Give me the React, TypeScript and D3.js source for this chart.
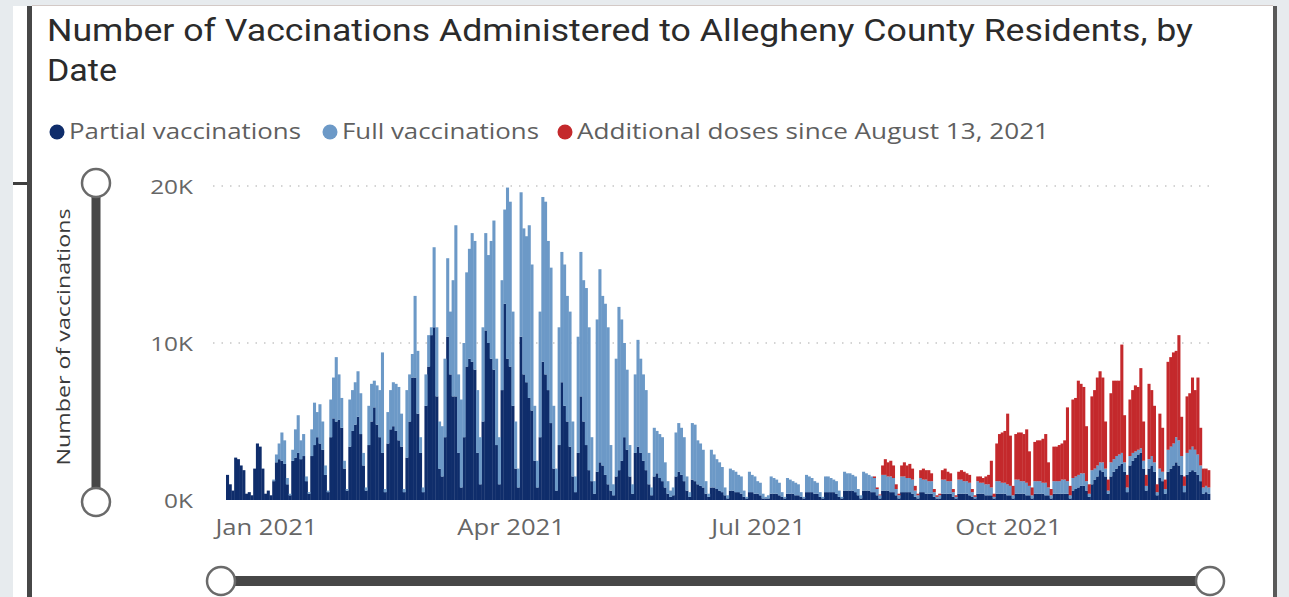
import React from "react";
import * as d3 from "d3";

// ---------- DATA (daily values, thousands of vaccinations) ----------
const startDate = "2020-12-18";
const additionalStartDate = "2021-08-13";

// Partial vaccinations (first doses), one value per day from Dec 18, 2020
const partialK = [
  1.6, 1.0, 0.6,
  2.7, 2.6, 2.2, 1.9, 0.4, 0.5, 0.3,
  2.0, 3.6, 3.4, 2.0, 0.4, 0.6, 0.3,
  1.2, 2.4, 2.6, 2.5, 2.3, 1.0, 0.3,
  2.5, 2.7, 3.0, 2.6, 2.8, 1.2, 0.4,
  2.8, 3.5, 4.0, 3.6, 3.2, 1.6, 0.5,
  4.0, 5.2, 5.0, 5.1, 4.6, 2.0, 0.6,
  3.4, 4.4, 4.8, 5.3, 4.2, 2.2, 0.6,
  3.5, 5.0, 5.9, 4.8, 4.0, 3.0, 0.5,
  3.6, 4.5, 4.7, 4.4, 3.8, 3.4, 0.5,
  2.7, 5.0, 7.8, 7.8, 5.5, 3.0, 0.5,
  6.0, 8.5, 10.5, 11.0, 6.6, 2.0, 1.5,
  4.0, 10.4, 8.0, 6.6, 6.6, 3.0, 0.8,
  4.0, 8.5, 9.0, 8.8, 8.3, 3.0, 1.0,
  5.0, 10.8, 10.0, 9.0, 8.3, 3.5, 1.0,
  7.0, 12.5, 9.0, 8.5, 6.0, 2.0, 0.8,
  10.4, 8.0, 7.5, 6.5, 5.7, 2.5, 0.8,
  4.0, 8.8, 8.0, 7.0, 4.9, 2.0, 0.6,
  3.5, 7.5, 6.0, 5.0, 3.4, 1.5, 0.5,
  3.0, 6.6, 5.0, 3.5, 1.9, 1.2, 0.4,
  1.8, 2.4, 2.2, 1.6, 1.0, 0.6, 0.3,
  1.5, 1.9, 2.5, 4.0, 3.2, 1.5, 0.4,
  3.0, 3.4, 3.0, 2.5, 1.9, 1.0, 0.3,
  1.5, 1.7, 1.4, 1.2, 0.8, 0.4, 0.2,
  0.3, 1.5, 1.8, 1.6, 1.2, 0.6, 0.2,
  1.3, 1.2, 1.0, 0.9, 0.8, 0.4, 0.2,
  0.8, 0.8, 0.7, 0.6, 0.5, 0.3, 0.1,
  0.6, 0.6, 0.5, 0.5, 0.4, 0.2, 0.1,
  0.5, 0.5, 0.4, 0.4, 0.3, 0.1, 0.1,
  0.1, 0.4, 0.4, 0.4, 0.3, 0.2, 0.1,
  0.4, 0.4, 0.4, 0.3, 0.3, 0.2, 0.1,
  0.5, 0.5, 0.5, 0.4, 0.4, 0.2, 0.1,
  0.5, 0.5, 0.5, 0.5, 0.4, 0.2, 0.1,
  0.6, 0.6, 0.6, 0.6, 0.5, 0.3, 0.1,
  0.6, 0.6, 0.6, 0.5, 0.5, 0.3, 0.1,
  0.6, 0.6, 0.6, 0.5, 0.5, 0.3, 0.1,
  0.5, 0.5, 0.5, 0.5, 0.4, 0.2, 0.1,
  0.5, 0.5, 0.4, 0.4, 0.4, 0.2, 0.1,
  0.1, 0.4, 0.4, 0.4, 0.4, 0.2, 0.1,
  0.4, 0.4, 0.4, 0.4, 0.3, 0.2, 0.1,
  0.4, 0.4, 0.4, 0.3, 0.3, 0.3, 0.1,
  0.4, 0.4, 0.4, 0.4, 0.3, 0.3, 0.1,
  0.4, 0.4, 0.4, 0.4, 0.3, 0.3, 0.1,
  0.4, 0.4, 0.4, 0.4, 0.3, 0.3, 0.1,
  0.4, 0.4, 0.4, 0.4, 0.4, 0.4, 0.1,
  0.6, 0.7, 0.8, 0.9, 0.9, 0.6, 0.2,
  1.0, 1.3, 1.5, 1.9, 1.8, 1.5, 0.4,
  1.5, 1.8, 2.0, 2.2, 2.3, 1.8, 0.5,
  2.2, 2.5, 2.7, 2.9, 3.0, 2.0, 0.6,
  2.0, 2.2, 1.8, 0.3, 1.4, 1.2, 0.4,
  1.8, 2.0, 2.2, 2.4, 2.2, 1.6, 0.5,
  1.6, 1.8, 1.9, 1.8, 1.6, 1.2, 0.4,
  0.5, 0.4,
];

// Full vaccinations, one value per day from Dec 18, 2020
const fullK = [
  0, 0, 0,
  0, 0, 0, 0, 0, 0, 0,
  0, 0, 0, 0, 0, 0, 0,
  0.1, 0.5, 1.0, 1.8, 1.5, 0.4, 0.1,
  0.7, 1.8, 2.4, 1.2, 1.4, 0.3, 0.1,
  1.7, 2.7, 1.6, 2.5, 1.8, 0.6, 0.1,
  2.4, 2.6, 4.1, 2.9, 1.9, 0.5, 0.1,
  3.0, 2.6, 2.7, 2.9, 2.6, 0.8, 0.2,
  2.5, 2.4, 1.7, 2.5, 3.0, 6.4, 0.2,
  2.0, 2.5, 2.8, 3.0, 3.4, 2.1, 0.2,
  4.3, 3.0, 1.5, 5.2, 4.0, 1.0, 0.3,
  2.0, 2.0, 0.5, 5.1, 4.4, 3.0, 3.2,
  5.0, 5.0, 4.0, 7.4, 10.9, 5.0, 5.6,
  6.0, 6.0, 7.0, 8.2, 8.2, 4.0, 3.0,
  6.0, 6.2, 5.6, 7.5, 9.5, 5.5, 3.0,
  7.0, 6.0, 10.9, 10.5, 6.0, 3.0, 1.2,
  9.2, 9.3, 9.3, 11.0, 9.3, 3.5, 1.7,
  8.0, 10.5, 11.0, 9.5, 9.9, 4.0, 1.4,
  7.5, 8.3, 9.0, 8.0, 8.6, 3.5, 1.0,
  7.4, 9.2, 9.0, 10.0, 9.1, 2.8, 0.8,
  9.7, 12.3, 10.8, 10.9, 10.0, 2.9, 0.7,
  7.5, 10.4, 9.0, 6.0, 5.1, 2.0, 0.6,
  5.0, 6.8, 6.0, 5.5, 5.1, 2.0, 0.5,
  3.1, 2.7, 2.8, 2.8, 1.6, 0.8, 0.4,
  0.5, 2.8, 3.1, 3.0, 2.8, 0.9, 0.3,
  3.6, 3.6, 2.8, 2.7, 2.4, 0.8, 0.2,
  2.4, 2.1, 1.9, 1.8, 1.6, 0.5, 0.2,
  1.4, 1.3, 1.3, 1.1, 1.1, 0.4, 0.1,
  1.3, 1.1, 1.1, 0.8, 0.8, 0.3, 0.1,
  0.2, 1.1, 1.0, 0.9, 0.8, 0.3, 0.1,
  1.0, 0.9, 0.8, 0.8, 0.7, 0.3, 0.1,
  1.1, 1.0, 0.9, 0.8, 0.7, 0.3, 0.1,
  1.0, 1.0, 0.9, 0.8, 0.8, 0.4, 0.1,
  1.2, 1.1, 1.1, 1.0, 1.0, 0.4, 0.2,
  1.2, 1.1, 1.0, 1.0, 0.9, 0.4, 0.2,
  1.0, 1.0, 0.9, 1.0, 0.9, 0.4, 0.2,
  1.0, 1.0, 0.9, 0.9, 0.9, 0.4, 0.2,
  0.9, 0.8, 0.9, 0.8, 0.8, 0.3, 0.1,
  0.2, 0.9, 0.9, 0.8, 0.8, 0.3, 0.1,
  0.9, 0.9, 0.8, 0.8, 0.8, 0.3, 0.1,
  0.8, 0.7, 0.7, 0.7, 0.7, 0.5, 0.1,
  0.8, 0.8, 0.7, 0.7, 0.7, 0.6, 0.2,
  0.9, 0.9, 0.8, 0.8, 0.8, 0.6, 0.2,
  0.8, 0.8, 0.8, 0.7, 0.8, 0.5, 0.2,
  0.8, 0.8, 0.8, 0.9, 0.9, 0.8, 0.2,
  0.8, 0.8, 0.8, 0.8, 0.8, 0.6, 0.2,
  0.9, 0.7, 0.7, 0.5, 0.6, 0.5, 0.2,
  0.9, 0.8, 0.8, 0.7, 0.7, 0.6, 0.3,
  0.6, 0.5, 0.4, 0.3, 0.3, 0.5, 0.3,
  0.6, 0.6, 0.6, 0.2, 0.6, 0.6, 0.3,
  1.4, 1.4, 1.4, 1.6, 1.6, 1.2, 0.4,
  1.4, 1.4, 1.5, 1.4, 1.3, 1.0, 0.4,
  0.4, 0.4,
];

// Additional doses, one value per day from Aug 13, 2021
const additionalK = [
  0.1, 0.1, 0.05,
  0.6, 1.0, 0.9, 1.0, 0.8, 0.3, 0.1,
  0.7, 0.9, 0.8, 0.9, 0.7, 0.3, 0.1,
  0.5, 0.7, 0.6, 0.7, 0.5, 0.2, 0.1,
  0.1, 0.6, 0.7, 0.6, 0.5, 0.2, 0.1,
  0.5, 0.6, 0.6, 0.5, 0.5, 0.2, 0.1,
  0.3, 0.4, 0.3, 0.5, 0.6, 1.7, 0.2,
  2.4, 3.0, 3.2, 3.3, 4.5, 3.2, 0.6,
  2.9, 3.0, 3.1, 3.0, 3.4, 2.2, 0.5,
  2.5, 2.6, 2.6, 2.8, 3.1, 1.6, 0.4,
  2.2, 2.2, 2.3, 2.3, 2.5, 4.7, 0.6,
  5.0, 5.0, 6.0, 5.7, 5.5, 3.5, 0.6,
  4.7, 5.0, 5.6, 5.8, 5.4, 3.0, 0.7,
  4.4, 5.0, 4.8, 4.7, 6.9, 3.0, 0.8,
  3.6, 4.0, 4.2, 4.0, 5.1, 2.5, 0.7,
  4.8, 4.2, 3.6, 0.5, 3.5, 2.8, 0.6,
  5.6, 5.7, 5.8, 5.5, 6.7, 2.5, 0.6,
  3.6, 3.6, 4.4, 3.8, 4.9, 2.4, 1.2,
  1.1, 1.1,
];

const seriesKeys = ["partial", "full", "additional"];
const seriesNames = ["Partial vaccinations", "Full vaccinations", "Additional doses since August 13, 2021"];
const seriesColors = ["#0f2d6b", "#6c99c7", "#c4292c"];

const xTickDates = ["2021-01-01", "2021-04-01", "2021-07-01", "2021-10-01"];
const xTickLabels = ["Jan 2021", "Apr 2021", "Jul 2021", "Oct 2021"];
const yTickValues = [0, 10, 20];
const yTickLabels = ["0K", "10K", "20K"];

const titleLines = ["Number of Vaccinations Administered to Allegheny County Residents, by", "Date"];
const yAxisTitle = "Number of vaccinations";

// ---------- CHART ----------
const W = 1289;
const H = 597;
const UI_FONT = "'Open Sans', 'Noto Sans', sans-serif";
const TITLE_FONT = "Roboto, 'DejaVu Sans', sans-serif";

// horizontal stretch of the reference's text relative to the chosen font
const TEXT_STRETCH = 1.22;

export default function App() {
  const parse = d3.utcParse("%Y-%m-%d");
  const start = parse(startDate) as Date;
  const addStart = parse(additionalStartDate) as Date;
  const addOffset = d3.utcDay.count(start, addStart);

  const rows = partialK.map((p, i) => ({
    date: d3.utcDay.offset(start, i),
    partial: p,
    full: fullK[i] ?? 0,
    additional: i >= addOffset ? additionalK[i - addOffset] ?? 0 : 0,
  }));

  const stacked = d3.stack<any>().keys(seriesKeys)(rows);

  const x = d3
    .scaleUtc()
    .domain([start, d3.utcDay.offset(start, rows.length)])
    .range([226, 1210]);
  const y = d3.scaleLinear().domain([0, 20]).range([500, 186]);

  const gridX0 = 213;
  const gridX1 = 1215;

  const legendX = [57, 330, 565];
  const legendTextLen = [232, 197, 472];

  const stretchText = (sx: number, sy: number, anchor: string, size: number, fill: string, label: string, key?: string) => (
    <text
      key={key}
      transform={`translate(${sx},${sy}) scale(${TEXT_STRETCH},1)`}
      textAnchor={anchor}
      fontFamily={UI_FONT}
      fontSize={size}
      fill={fill}
    >
      {label}
    </text>
  );

  return (
    <div style={{ position: "absolute", left: 0, top: 0 }}>
      <svg width={W} height={H} style={{ display: "block" }}>
        <rect x={0} y={0} width={W} height={H} fill="#e7ebee" />
        <rect x={13} y={6} width={1262} height={H - 6} fill="#ffffff" />
        <line x1={32} x2={1273} y1={5.5} y2={5.5} stroke="#d3c9c6" strokeWidth={1} />
        <rect x={27} y={6} width={5} height={H - 6} fill="#474747" />
        <rect x={1273} y={6} width={4} height={H - 6} fill="#595959" />
        <rect x={13} y={182} width={14} height={3} fill="#3e3e3e" />

        {/* Title */}
        <text
          x={47}
          y={41}
          fontFamily={TITLE_FONT}
          fontSize={31}
          fill="#2b2b2b"
          textLength={1146}
          lengthAdjust="spacingAndGlyphs"
        >
          {titleLines[0]}
        </text>
        <text
          x={47}
          y={81}
          fontFamily={TITLE_FONT}
          fontSize={31}
          fill="#2b2b2b"
          textLength={70}
          lengthAdjust="spacingAndGlyphs"
        >
          {titleLines[1]}
        </text>

        {/* Legend */}
        {seriesNames.map((name, i) => (
          <g key={name}>
            <circle cx={legendX[i]} cy={132} r={7.5} fill={seriesColors[i]} />
            <text
              x={legendX[i] + 12}
              y={139}
              fontFamily={UI_FONT}
              fontSize={21}
              fill="#5f5f5f"
              textLength={legendTextLen[i]}
              lengthAdjust="spacingAndGlyphs"
            >
              {name}
            </text>
          </g>
        ))}

        {/* Gridlines */}
        {yTickValues
          .filter((v) => v > 0)
          .map((v) => (
            <line
              key={v}
              x1={gridX0}
              x2={gridX1}
              y1={y(v)}
              y2={y(v)}
              stroke="#c6c6c6"
              strokeWidth={1.5}
              strokeDasharray="1.5,7"
            />
          ))}

        {/* Bars */}
        {stacked.map((layer, li) => (
          <g key={seriesKeys[li]} fill={seriesColors[li]}>
            {layer.map((d: any, i: number) => {
              const h = y(d[0]) - y(d[1]);
              if (h <= 0) return null;
              const x0 = x(d.data.date);
              const x1 = x(d3.utcDay.offset(d.data.date, 1));
              return <rect key={i} x={x0} y={y(d[1])} width={x1 - x0 + 0.35} height={h} />;
            })}
          </g>
        ))}

        {/* Y tick labels */}
        {yTickValues.map((v, i) =>
          stretchText(193, y(v) + 8, "end", 20, "#666666", yTickLabels[i], `y${v}`)
        )}

        {/* X tick labels */}
        {xTickDates.map((ds, i) => {
          const dt = parse(ds) as Date;
          const cx = (x(dt) + x(d3.utcDay.offset(dt, 1))) / 2;
          return stretchText(cx + 1, 535, "middle", 21, "#666666", xTickLabels[i], ds);
        })}

        {/* Y axis title */}
        <text
          transform="translate(70,337) rotate(-90)"
          textAnchor="middle"
          fontFamily={UI_FONT}
          fontSize={19}
          fill="#3a3a3a"
          textLength={257}
          lengthAdjust="spacingAndGlyphs"
        >
          {yAxisTitle}
        </text>

        {/* Vertical zoom slider */}
        <line x1={96} x2={96} y1={183} y2={502} stroke="#474747" strokeWidth={9} />
        <circle cx={96} cy={183} r={14} fill="#ffffff" stroke="#6a6a6a" strokeWidth={2.5} />
        <circle cx={96} cy={502} r={14} fill="#ffffff" stroke="#6a6a6a" strokeWidth={2.5} />

        {/* Horizontal zoom slider */}
        <line x1={221} x2={1210} y1={581} y2={581} stroke="#474747" strokeWidth={10} />
        <circle cx={221} cy={581} r={14} fill="#ffffff" stroke="#6a6a6a" strokeWidth={2.5} />
        <circle cx={1210} cy={581} r={14} fill="#ffffff" stroke="#6a6a6a" strokeWidth={2.5} />
      </svg>
    </div>
  );
}
